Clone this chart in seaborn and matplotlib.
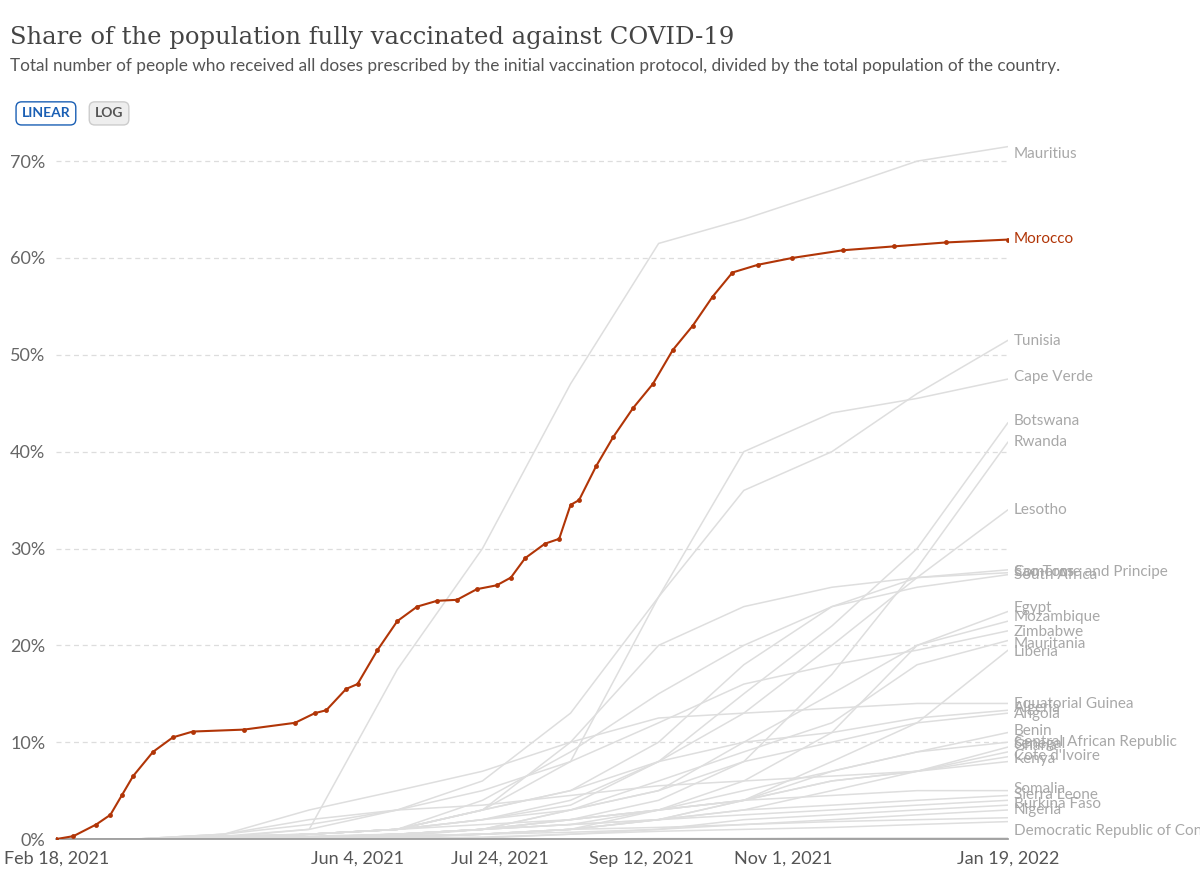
import matplotlib
matplotlib.use("Agg")
import matplotlib.pyplot as plt
import seaborn as sns
import pandas as pd

sns.set_theme(style="white")
plt.rcParams['font.family'] = ['Lato', 'DejaVu Sans']

# Morocco (detailed)
morocco_dates = ["2021-02-18","2021-02-24","2021-03-04","2021-03-09","2021-03-13","2021-03-17","2021-03-24","2021-03-31",
    "2021-04-07","2021-04-25","2021-05-13","2021-05-20","2021-05-24","2021-05-31","2021-06-04","2021-06-11","2021-06-18",
    "2021-06-25","2021-07-02","2021-07-09","2021-07-16","2021-07-23","2021-07-28","2021-08-02","2021-08-09","2021-08-14",
    "2021-08-18","2021-08-21","2021-08-27","2021-09-02","2021-09-09","2021-09-16","2021-09-23","2021-09-30","2021-10-07",
    "2021-10-14","2021-10-23","2021-11-04","2021-11-22","2021-12-10","2021-12-28","2022-01-19"]
morocco_vals = [0,0.3,1.5,2.5,4.5,6.5,9,10.5,11.1,11.3,12,13,13.3,15.5,16,19.5,22.5,24,24.6,24.7,25.8,26.2,27,29,30.5,31,
    34.5,35,38.5,41.5,44.5,47,50.5,53,56,58.5,59.3,60,60.8,61.2,61.6,61.9]

grid_dates = ["2021-02-18","2021-03-18","2021-04-18","2021-05-18","2021-06-18","2021-07-18","2021-08-18",
              "2021-09-18","2021-10-18","2021-11-18","2021-12-18","2022-01-19"]
mauritius = [0,0,0.3,1,17.5,30,47,61.5,64,67,70,71.5]
tunisia = [0,0,0.3,0.5,1,3,8,25,36,40,46,51.5]
cape_verde = [0,0,0.2,1,3,6,13,25,40,44,45.5,47.5]
botswana = [0,0,0.2,0.5,1,3,5,8,15,22,30,43]
rwanda = [0,0,0.3,0.5,1,1.5,2,4,8,17,28,41]
lesotho = [0,0,0,0.5,1,2,3.5,8,13,20,27,34]
sao_tome = [0,0,0,0.5,1,3,5,10,18,24,27,27.5]
south_africa = [0,0,0.1,0.5,1,4,9,15,20,24,26,27.3]
comoros = [0,0,0,0.5,1,3,10,20,24,26,27,27.8]
egypt = [0,0,0,0.2,0.5,1,3,5,10,15,20,23.5]
mozambique = [0,0,0,0.1,0.5,1,1.5,3,6,11,20,22.5]
zimbabwe = [0,0,0.5,1.5,3,5,8,12,16,18,19.5,21.5]
mauritania = [0,0,0,0.2,0.5,1,3,6,9,12,18,20.5]
liberia = [0,0,0,0.1,0.3,0.5,1,2,4,8,12,19.5]
eq_guinea = [0,0,0.5,3,5,7,10,12.5,13,13.5,14,14]
algeria = [0,0,0,0.5,1,2,4,8,10,11,12.5,13.3]
angola = [0,0,0,0.5,1,2,3,5,8,10,12,13]
benin = [0,0,0,0.1,0.2,0.5,1,2,4,7,9,11]
car = [0,0,0,0,0.1,0.5,1,3,5,7,9,10]
senegal = [0,0,0.5,2,3,3.5,4.5,5.5,6,6.5,7,9.5]
ghana = [0,0,0,0.1,0.3,1,2,3,4,6,7,9]
cote_ivoire = [0,0,0,0.3,0.5,1,2,3,4,6,7,8.5]
kenya = [0,0,0,0.1,0.5,1,1.5,2,3,5,7,8]
somalia = [0,0,0,0.2,0.5,1,2,3,4,4.5,5,5]
sierra_leone = [0,0,0,0.2,0.3,0.5,1,2,3,3.5,4,4.5]
burkina = [0,0,0,0,0,0.1,0.5,1,2,2.5,3,3.5]
nigeria = [0,0,0,0.1,0.3,0.5,0.7,1,1.5,2,2.5,3]
drc = [0,0,0,0,0,0,0,0.05,0.05,0.1,0.1,0.1]
ethiopia = [0,0,0,0,0.1,0.2,0.5,0.8,1,1.2,1.5,1.8]
malawi = [0,0,0,0.1,0.5,1,1.5,2,2.5,3,3.5,4]
sudan = [0,0,0,0.1,0.3,0.5,1,1.2,1.5,1.8,2,2.2]

gray_series = [mauritius,tunisia,cape_verde,botswana,rwanda,lesotho,sao_tome,south_africa,comoros,egypt,mozambique,
    zimbabwe,mauritania,liberia,eq_guinea,algeria,angola,benin,car,senegal,ghana,cote_ivoire,kenya,somalia,
    sierra_leone,burkina,nigeria,drc,ethiopia,malawi,sudan]

label_names = ["Mauritius","Tunisia","Cape Verde","Botswana","Rwanda","Lesotho","Sao Tome and Principe","Comoros",
    "South Africa","Egypt","Mozambique","Zimbabwe","Mauritania","Liberia","Equatorial Guinea","Algeria","Angola","Benin",
    "Central African Republic","Senegal","Ghana","Cote d'Ivoire","Kenya","Somalia","Sierra Leone","Burkina Faso",
    "Nigeria","Democratic Republic of Congo"]
label_y = [70.7,51.4,47.7,43.2,41,34,27.6,27.6,27.3,23.9,22.9,21.4,20.1,19.3,13.9,13.5,12.9,11.2,10,9.8,9.6,8.6,8.3,
    5.2,4.5,3.6,3.0,0.8]

fig = plt.figure(figsize=(12, 8.86), dpi=100)
ax = fig.add_axes([0.047, 0.053, 0.793, 0.787])

gd = pd.to_datetime(grid_dates)
for s in gray_series:
    sns.lineplot(x=gd, y=s, ax=ax, color="#dedede", linewidth=1.1, zorder=1)
md = pd.to_datetime(morocco_dates)
sns.lineplot(x=md, y=morocco_vals, ax=ax, color="#b13507", linewidth=1.5, marker="o", markersize=3.5,
             markeredgewidth=0, zorder=3)

ax.set_xlim(pd.Timestamp("2021-02-18"), pd.Timestamp("2022-01-19"))
ax.set_ylim(0, 72)
ax.set_yticks([0,10,20,30,40,50,60,70])
ax.set_yticklabels([f"{v}%" for v in [0,10,20,30,40,50,60,70]], fontsize=13, color="#666666")
ticks = pd.to_datetime(["2021-02-18","2021-06-04","2021-07-24","2021-09-12","2021-11-01","2022-01-19"])
ax.set_xticks(ticks)
ax.set_xticklabels(["Feb 18, 2021","Jun 4, 2021","Jul 24, 2021","Sep 12, 2021","Nov 1, 2021","Jan 19, 2022"],
                   fontsize=13, color="#555555")
ax.tick_params(axis="x", length=5, color="#999999")
ax.tick_params(axis="y", length=0, pad=8)
for y in [10,20,30,40,50,60,70]:
    ax.axhline(y, color="#dddddd", linestyle=(0,(4,3)), linewidth=0.9, zorder=0)
for sp in ["top","right","left"]:
    ax.spines[sp].set_visible(False)
ax.spines["bottom"].set_color("#999999")
ax.set_xlabel(""); ax.set_ylabel("")

xlab = pd.Timestamp("2022-01-21")
for n, y in zip(label_names, label_y):
    ax.text(xlab, y, n, fontsize=11, color="#a8a8a8", va="center", ha="left", clip_on=False)
ax.text(xlab, 62, "Morocco", fontsize=11, color="#b13507", va="center", ha="left", clip_on=False)

fig.text(0.008, 0.958, "Share of the population fully vaccinated against COVID-19", fontsize=17.5,
         family=["DejaVu Serif"], color="#444444", va="center")
fig.text(0.008, 0.925, "Total number of people who received all doses prescribed by the initial vaccination protocol, divided by the total population of the country.",
         fontsize=12.4, color="#555555", va="center")
fig.text(0.018, 0.872, "LINEAR", fontsize=10, color="#1a5fb4", weight="bold", va="center",
         bbox=dict(boxstyle="round,pad=0.4", fc="white", ec="#1a5fb4"))
fig.text(0.079, 0.872, "LOG", fontsize=10, color="#555555", weight="bold", va="center",
         bbox=dict(boxstyle="round,pad=0.4", fc="#eeeeee", ec="#cccccc"))

fig.savefig("out.png", dpi=100)
